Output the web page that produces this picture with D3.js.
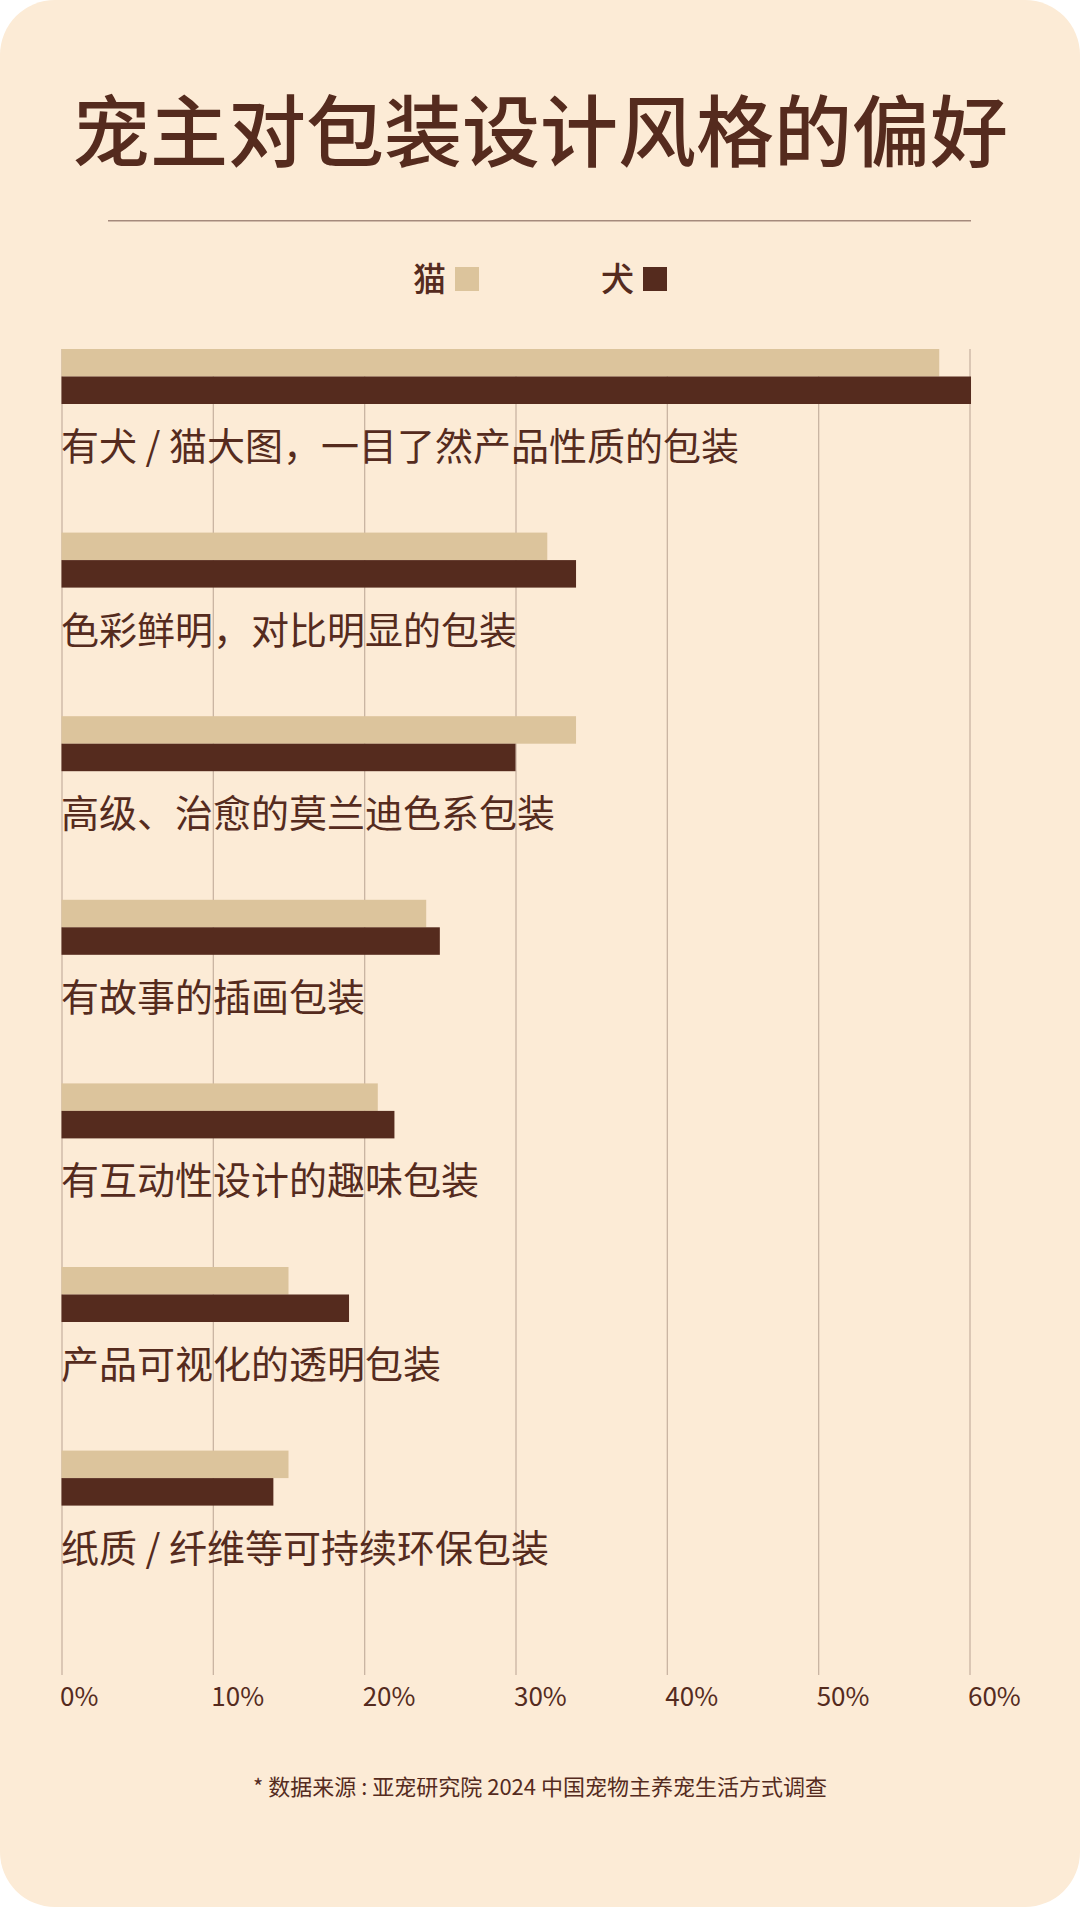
<!DOCTYPE html>
<html lang="zh">
<head>
    <meta charset="UTF-8">
    <title>宠主对包装设计风格的偏好</title>
    <style>
        body { margin: 0; background: #ffffff; }
        svg text { font-family: "Noto Sans CJK SC", "Noto Sans", sans-serif; }
    </style>
</head>
<body>
    <svg width="1080" height="1907" id="svg"></svg>
    <script src="https://d3js.org/d3.v7.min.js"></script>
    <script>
        // 数据
        const categories = [
            "有犬 / 猫大图，一目了然产品性质的包装",
            "色彩鲜明，对比明显的包装",
            "高级、治愈的莫兰迪色系包装",
            "有故事的插画包装",
            "有互动性设计的趣味包装",
            "产品可视化的透明包装",
            "纸质 / 纤维等可持续环保包装"
        ]
        const catValues = [58, 32.1, 34, 24.1, 20.9, 15, 15]
        const dogValues = [60.1, 34, 30, 25, 22, 19, 14]
        const seriesNames = ["猫", "犬"]
        const tickValues = [0, 10, 20, 30, 40, 50, 60]

        const colors = { cat: "#DCC49C", dog: "#552B1E" }
        const textColor = "#552B1E"

        const svg = d3.select("svg#svg")
        const width = +svg.attr("width")
        const height = +svg.attr("height")

        // 背景卡片
        svg.append("rect")
            .attr("width", width).attr("height", height)
            .attr("rx", 55).attr("ry", 55)
            .attr("fill", "#FCEBD6")

        // 标题
        svg.append("text")
            .attr("x", width / 2).attr("y", 161)
            .attr("text-anchor", "middle")
            .attr("font-size", 78).attr("font-weight", 500)
            .attr("fill", textColor)
            .text("宠主对包装设计风格的偏好")

        svg.append("line")
            .attr("x1", 108).attr("x2", 971)
            .attr("y1", 220.7).attr("y2", 220.7)
            .attr("stroke", "#A58A7C").attr("stroke-width", 1.5)

        // 图例
        const legend = svg.append("g")
        const legendItem = legend.selectAll("g").data(seriesNames).join("g")
            .attr("transform", (d, i) => `translate(${413 + i * 188},0)`)
        legendItem.append("text")
            .attr("y", 291)
            .attr("font-size", 33).attr("font-weight", 500)
            .attr("fill", textColor)
            .text(d => d)
        legendItem.append("rect")
            .attr("x", 42).attr("y", 267)
            .attr("width", 24).attr("height", 24)
            .attr("fill", (d, i) => i === 0 ? colors.cat : colors.dog)

        // 比例尺
        const chartTop = 349
        const gridBottom = 1675
        const xScale = d3.scaleLinear().domain([0, 60]).range([61.5, 969.5])
        const yScale = d3.scaleBand().domain(categories).range([chartTop, chartTop + 183.6 * categories.length])
        const barH = 27.5

        // 网格线 + 刻度
        const xAxis = d3.axisBottom(xScale)
            .tickValues(tickValues)
            .tickSize(-(gridBottom - chartTop))
            .tickFormat(d => d + "%")
        const axisG = svg.append("g")
            .attr("transform", `translate(0,${gridBottom})`)
            .call(xAxis)
        axisG.select(".domain").remove()
        axisG.selectAll(".tick line").attr("stroke", "#C9B4A2").attr("stroke-width", 1.3)
        axisG.selectAll(".tick text")
            .attr("text-anchor", "start")
            .attr("x", -2).attr("y", 31).attr("dy", null)
            .attr("font-size", 26)
            .attr("font-family", "\"Noto Sans CJK SC\", sans-serif")
            .attr("fill", textColor)

        // 条形
        const g = svg.append("g")
        g.selectAll("rect.cat").data(categories).join("rect")
            .attr("class", "cat")
            .attr("x", xScale(0))
            .attr("y", d => yScale(d))
            .attr("width", (d, i) => xScale(catValues[i]) - xScale(0))
            .attr("height", barH)
            .attr("fill", colors.cat)
        g.selectAll("rect.dog").data(categories).join("rect")
            .attr("class", "dog")
            .attr("x", xScale(0))
            .attr("y", d => yScale(d) + barH)
            .attr("width", (d, i) => xScale(dogValues[i]) - xScale(0))
            .attr("height", barH)
            .attr("fill", colors.dog)

        // 类别标签
        g.selectAll("text.label").data(categories).join("text")
            .attr("class", "label")
            .attr("x", 61)
            .attr("y", d => yScale(d) + 111)
            .attr("font-size", 38)
            .attr("fill", textColor)
            .text(d => d)

        // 数据来源
        svg.append("text")
            .attr("x", width / 2).attr("y", 1795)
            .attr("text-anchor", "middle")
            .attr("font-size", 22)
            .attr("fill", textColor)
            .text("* 数据来源 : 亚宠研究院 2024 中国宠物主养宠生活方式调查")
    </script>
</body>
</html>
